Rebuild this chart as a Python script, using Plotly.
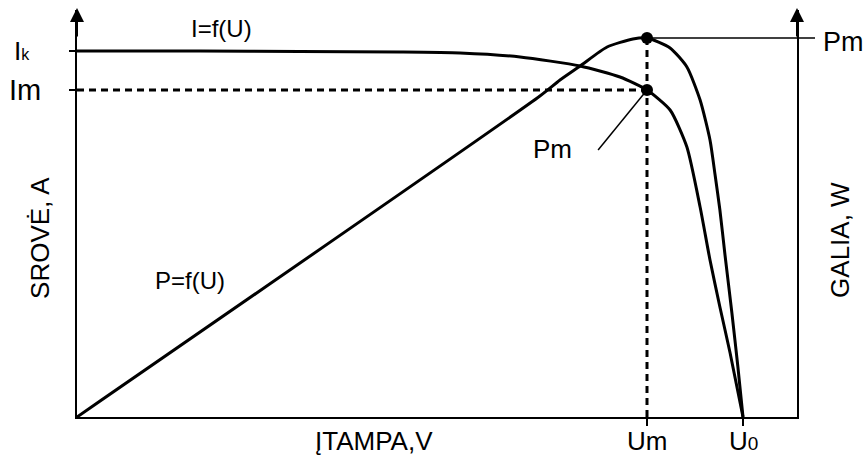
import plotly.graph_objects as go

# ---- data (arbitrary units) ----
U_I = [0, 4.1, 7.43, 10.77, 12.77, 14.77, 16.77, 18.1, 19.0, 19.77, 20.33, 20.77, 21.1, 21.43, 21.77, 22.2]
I_vals = [3.66, 3.66, 3.655, 3.65, 3.64, 3.60, 3.51, 3.40, 3.27, 3.07, 2.70, 2.10, 1.57, 1.10, 0.64, 0.0]

U_P = [0, 15.43, 16.1, 16.77, 17.67, 18.53, 19.0, 19.77, 20.33, 20.77, 21.1, 21.27, 21.43, 21.6, 21.83, 22.03, 22.2]
P_vals = [0, 64.2, 67.4, 70.2, 74.0, 75.6, 75.8, 73.8, 70.0, 63.4, 55.4, 48.4, 41.4, 32.4, 20.8, 10.0, 0.0]

Ik = 3.66
Im = 3.27
Um = 19.0
U0 = 22.2
Pm = 75.8

x_range = [0, 24]
y_range = [0, 4.07]
y2_range = [0, 81.4]

x_ticks = [Um, U0]
x_ticktext = ["Um", "U<span style='font-size:19px'>0</span>"]
y_ticks = [Ik, Im]

FONT = "Liberation Sans, Arial, sans-serif"
BLACK = "#000000"

fig = go.Figure()

# I = f(U)
fig.add_trace(go.Scatter(x=U_I, y=I_vals, mode="lines", line=dict(color=BLACK, width=3, shape="spline", smoothing=0.6),
                         hoverinfo="skip", showlegend=False))
# P = f(U)
fig.add_trace(go.Scatter(x=U_P, y=P_vals, yaxis="y2", mode="lines",
                         line=dict(color=BLACK, width=3, shape="spline", smoothing=0.6),
                         hoverinfo="skip", showlegend=False))
# dashed Im line
fig.add_trace(go.Scatter(x=[0, Um], y=[Im, Im], mode="lines", line=dict(color=BLACK, width=3, dash="7px,5px"),
                         hoverinfo="skip", showlegend=False))
# dashed Um line
fig.add_trace(go.Scatter(x=[Um, Um], y=[0, Pm], yaxis="y2", mode="lines", line=dict(color=BLACK, width=3, dash="7px,5px"),
                         hoverinfo="skip", showlegend=False))
# points
fig.add_trace(go.Scatter(x=[Um], y=[Im], mode="markers", marker=dict(color=BLACK, size=12),
                         hoverinfo="skip", showlegend=False, cliponaxis=False))
fig.add_trace(go.Scatter(x=[Um], y=[Pm], yaxis="y2", mode="markers", marker=dict(color=BLACK, size=12),
                         hoverinfo="skip", showlegend=False, cliponaxis=False))

# pointer lines for the Pm labels
shapes = [
    dict(type="line", xref="paper", yref="y2", x0=Um / x_range[1], x1=1.025, y0=Pm, y1=Pm,
         line=dict(color=BLACK, width=1.5), layer="above"),
    dict(type="line", xref="x", yref="y", x0=Um, y0=Im, x1=17.37, y1=2.67,
         line=dict(color=BLACK, width=1.5), layer="above"),
]

annotations = []
# axis arrows
for xa in [0, 1]:
    annotations.append(dict(xref="paper", yref="paper", x=xa, y=1.005, ax=0, ay=30,
                            text="", showarrow=True, arrowhead=2, arrowsize=1.4, arrowwidth=2, arrowcolor=BLACK))


def txt(text, x, y, xref="paper", yref="paper", size=20, xanchor="center", yanchor="middle", angle=0, **kw):
    d = dict(text=text, x=x, y=y, xref=xref, yref=yref, showarrow=False,
             xanchor=xanchor, yanchor=yanchor, textangle=angle,
             font=dict(family=FONT, size=size, color=BLACK))
    d.update(kw)
    annotations.append(d)


txt("Pm", Um, Pm, xref="x", yref="y2", size=27, xanchor="left", xshift=174, yshift=-4)
txt("Pm", Um, Im, xref="x", yref="y", size=26, xshift=-95, yshift=-59)
txt("I=f(U)", 4.8, 3.89, xref="x", yref="y", size=24)
txt("P=f(U)", 3.77, 1.37, xref="x", yref="y", size=24)
txt("I<span style='font-size:16px'>k</span>", -0.062, Ik, yref="y", size=26, xanchor="right")
txt("Im", -0.047, Im, yref="y", size=29, xanchor="right")
txt("SROVĖ, A", -0.0514, 0.44, size=26, angle=-90)
txt("GALIA, W", 1.0597, 0.435, size=26, angle=-90)
txt("ĮTAMPA,V", 0.4125, -0.059, size=26)
# x tick labels
for xv, lab in zip(x_ticks, x_ticktext):
    txt(lab, xv, -0.059, xref="x", size=26)

fig.update_layout(
    template="none",
    width=866, height=461,
    margin=dict(l=77, r=69, t=10, b=44, pad=0, autoexpand=False),
    paper_bgcolor="white", plot_bgcolor="white",
    font=dict(family=FONT, size=20, color=BLACK),
    xaxis=dict(range=x_range, showgrid=False, zeroline=False, showline=True, linecolor=BLACK, linewidth=2,
               tickvals=x_ticks, showticklabels=False, ticks="outside", ticklen=7, tickwidth=2, tickcolor=BLACK,
               fixedrange=True, automargin=False),
    yaxis=dict(range=y_range, showgrid=False, zeroline=False, showline=True, linecolor=BLACK, linewidth=2,
               tickvals=y_ticks, showticklabels=False, ticks="outside", ticklen=6, tickwidth=2, tickcolor=BLACK,
               fixedrange=True, automargin=False),
    yaxis2=dict(range=y2_range, overlaying="y", side="right", showgrid=False, zeroline=False, showline=True,
                linecolor=BLACK, linewidth=2, showticklabels=False, ticks="", fixedrange=True, automargin=False),
    annotations=annotations,
    shapes=shapes,
    showlegend=False,
)

fig.write_html("out.html")
